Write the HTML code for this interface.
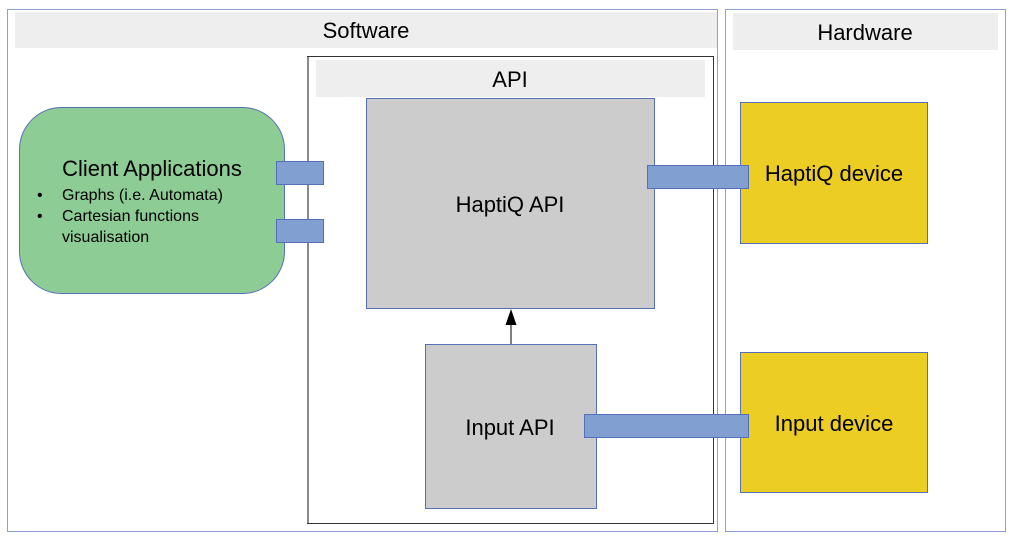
<!DOCTYPE html>
<html><head><meta charset="utf-8"><style>
html,body{margin:0;padding:0;background:#fff;width:1014px;height:541px;overflow:hidden}
svg{display:block}
text{font-family:"Liberation Sans",Arial,sans-serif;fill:#000}
</style></head><body>
<svg width="1014" height="541" viewBox="0 0 1014 541" xmlns="http://www.w3.org/2000/svg">
<rect x="7.5" y="9.5" width="710" height="522" fill="#fff" stroke="#8ea0d3" stroke-width="1"/>
<rect x="15" y="12" width="702" height="36" fill="#eeeeee"/>
<text x="366" y="38" font-size="22" text-anchor="middle">Software</text>
<rect x="725.5" y="9.5" width="280" height="522" fill="#fff" stroke="#8ea0d3" stroke-width="1"/>
<rect x="733" y="13" width="265" height="37" fill="#eeeeee"/>
<text x="865" y="40" font-size="22" text-anchor="middle">Hardware</text>
<rect x="307.5" y="56.5" width="406" height="467" fill="#fff" stroke="#333" stroke-width="1"/>
<line x1="308" y1="57" x2="308" y2="523" stroke="#888" stroke-width="2"/>
<rect x="316" y="60" width="389" height="37" fill="#eeeeee"/>
<text x="510" y="87" font-size="22" text-anchor="middle">API</text>
<rect x="366.5" y="98.5" width="288" height="210" fill="#cccccc" stroke="#5570b8" stroke-width="1"/>
<text x="510" y="212" font-size="22" text-anchor="middle">HaptiQ API</text>
<rect x="425.5" y="344.5" width="171" height="164" fill="#cccccc" stroke="#5570b8" stroke-width="1"/>
<text x="510" y="435" font-size="22" text-anchor="middle">Input API</text>
<line x1="511" y1="344" x2="511" y2="322" stroke="#000" stroke-width="1"/>
<polygon points="511,309 505.5,325 516.5,325" fill="#000"/>
<rect x="19.5" y="107.5" width="265" height="186" rx="42" fill="#8ecc95" stroke="#5570b8" stroke-width="1"/>
<text x="152" y="176" font-size="22" text-anchor="middle">Client Applications</text>
<text x="37" y="200" font-size="16">•</text>
<text x="62" y="200" font-size="16">Graphs (i.e. Automata)</text>
<text x="37" y="221" font-size="16">•</text>
<text x="62" y="221" font-size="16">Cartesian functions</text>
<text x="62" y="242" font-size="16">visualisation</text>
<rect x="276.5" y="161.5" width="47" height="23" fill="#819fd0" stroke="#5570b8" stroke-width="1"/>
<rect x="276.5" y="219.5" width="47" height="23" fill="#819fd0" stroke="#5570b8" stroke-width="1"/>
<rect x="740.5" y="102.5" width="187" height="141" fill="#ebcd24" stroke="#5570b8" stroke-width="1"/>
<text x="834" y="181" font-size="22" text-anchor="middle">HaptiQ device</text>
<rect x="740.5" y="352.5" width="187" height="140" fill="#ebcd24" stroke="#5570b8" stroke-width="1"/>
<text x="834" y="431" font-size="22" text-anchor="middle">Input device</text>
<rect x="647.5" y="165.5" width="101" height="23" fill="#819fd0" stroke="#5570b8" stroke-width="1"/>
<rect x="584.5" y="414.5" width="164" height="23" fill="#819fd0" stroke="#5570b8" stroke-width="1"/>
</svg>
</body></html>
